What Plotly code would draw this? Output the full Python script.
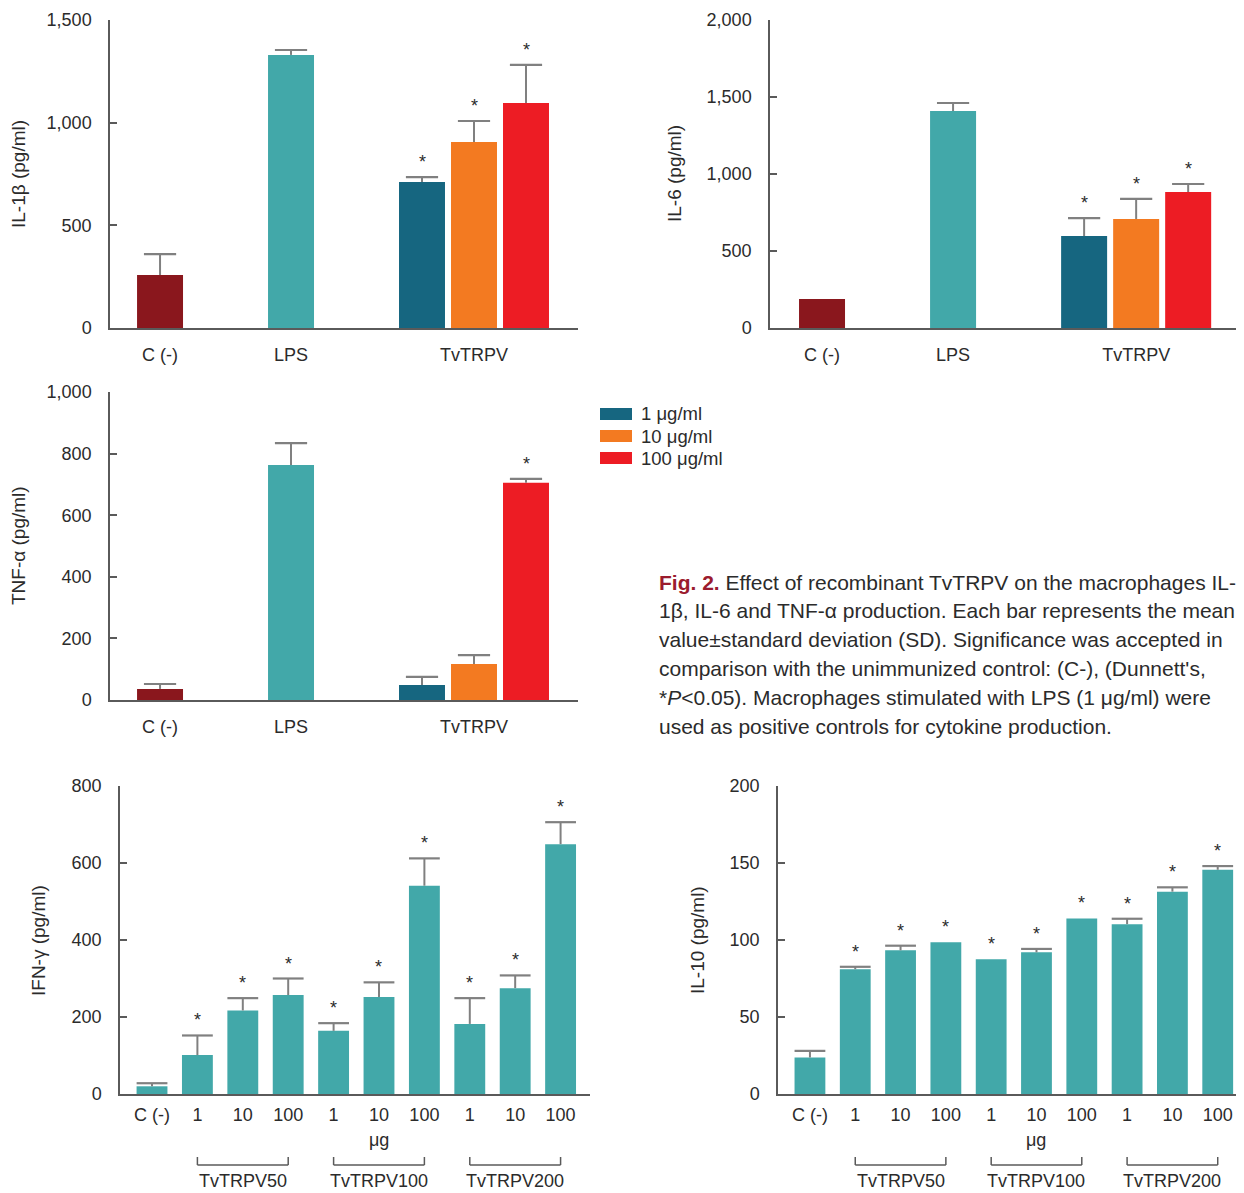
import plotly.graph_objects as go

W, H = 1244, 1193
# the page body adds an 8px margin around the figure; positions below are page pixels
OFF = 8

# ---------------- data ----------------
top_categories = ["C (-)", "LPS", "TvTRPV"]
dose_labels = ["1 μg/ml", "10 μg/ml", "100 μg/ml"]

il1b_controls = [258, 1330]
il1b_controls_sd = [102, 24]
il1b_dose = [711, 906, 1096]
il1b_dose_sd = [24, 102, 185]
il1b_sig = [True, True, True]

il6_controls = [188, 1409]
il6_controls_sd = [None, 52]
il6_dose = [597, 708, 883]
il6_dose_sd = [117, 130, 52]
il6_sig = [True, True, True]

tnf_controls = [36, 763]
tnf_controls_sd = [16, 71]
tnf_dose = [49, 117, 705]
tnf_dose_sd = [26, 29, 13]
tnf_sig = [False, False, True]

groups = ["TvTRPV50", "TvTRPV100", "TvTRPV200"]
doses = ["1", "10", "100"]
bottom_labels = ["C (-)", "1", "10", "100", "1", "10", "100", "1", "10", "100"]

ifn = [20, 101, 217, 257, 164, 252, 541, 182, 275, 649]
ifn_sd = [8, 51, 32, 43, 20, 38, 71, 67, 33, 57]
ifn_sig = [False, True, True, True, True, True, True, True, True, True]

il10 = [23.7, 81, 93.3, 98.5, 87.5, 92, 114, 110.3, 131.4, 145.6]
il10_sd = [4.3, 1.6, 3.0, None, None, 2.2, None, 3.5, 2.8, 2.4]
il10_sig = [False, True, True, True, True, True, True, True, True, True]

caption_lines = [
    "<b><span style='color:#9B1B2E'>Fig. 2.</span></b> Effect of recombinant TvTRPV on the macrophages IL-",
    "1β, IL-6 and TNF-α production. Each bar represents the mean",
    "value±standard deviation (SD). Significance was accepted in",
    "comparison with the unimmunized control: (C-), (Dunnett's,",
    "*<i>P</i>&lt;0.05). Macrophages stimulated with LPS (1 μg/ml) were",
    "used as positive controls for cytokine production.",
]

# ---------------- style ----------------
FONT = "Liberation Sans Narrow, Arial Narrow, Liberation Sans, Arial, sans-serif"
TXT = "#2b2b2b"
AXIS = "#5a5a5a"
ERR = "#808080"
CTRL_COLORS = ["#8A171D", "#42A8A9"]
DOSE_COLORS = ["#166680", "#F37A21", "#ED1C24"]
TEAL = "#42A8A9"
TICK_SIZE = 18

# layout positions
GROUP_POS = 2.397
DOSE_OFF = [-0.397, 0.0, 0.397]
TOP_BARW = 0.351
BOT_BARW = 0.68


def fx(p):
    return (p - OFF) / W


def fy(p):
    return 1 - (p - OFF) / H


fig = go.Figure()
annotations = []
shapes = []


def axis_pair(i, xbox, ybox, xrange_, ymax, dtick, tickvals, ticktext, x_standoff):
    sfx = "" if i == 1 else str(i)
    fig.layout["xaxis" + sfx] = dict(
        domain=[fx(xbox[0]), min(1, fx(xbox[1]))], range=list(xrange_), anchor="y" + sfx,
        tickmode="array", tickvals=tickvals, ticktext=ticktext,
        showline=True, linecolor=AXIS, linewidth=2, ticks="", showgrid=False,
        zeroline=False, tickfont=dict(family=FONT, size=TICK_SIZE, color=TXT),
        ticklabelstandoff=x_standoff, fixedrange=True, automargin=False,
    )
    fig.layout["yaxis" + sfx] = dict(
        domain=[fy(ybox[1]), fy(ybox[0])], range=[0, ymax], anchor="x" + sfx,
        tick0=0, dtick=dtick, tickformat=",", ticks="inside", ticklen=7,
        tickcolor=AXIS, tickwidth=1.5, showline=True, linecolor=AXIS, linewidth=1.5,
        showgrid=False, zeroline=False,
        tickfont=dict(family=FONT, size=TICK_SIZE, color=TXT), ticklabelstandoff=13,
        fixedrange=True, automargin=False,
    )
    return "x" + sfx, "y" + sfx


def add_errors_and_stars(xa, ya, xs, ys, sds, sig, capsize):
    keep = [k for k, s in enumerate(sds) if s is not None]
    # point at mean+SD: a horizontal-line marker is the cap, the error bar runs down to the bar
    fig.add_trace(go.Scatter(
        x=[xs[k] for k in keep], y=[ys[k] + sds[k] for k in keep], mode="markers",
        marker=dict(symbol="line-ew", size=capsize, line=dict(color=ERR, width=2.2)),
        xaxis=xa, yaxis=ya, showlegend=False, hoverinfo="skip",
        error_y=dict(type="data", symmetric=False, array=[0 for _ in keep],
                     arrayminus=[sds[k] for k in keep], color=ERR, thickness=2, width=0),
    ))
    for k, s in enumerate(sig):
        if s:
            top = ys[k] + (sds[k] or 0)
            annotations.append(dict(
                x=xs[k], y=top, xref=xa, yref=ya, text="*", showarrow=False,
                yanchor="bottom", yshift=3,
                font=dict(family=FONT, size=18, color=TXT),
            ))


def add_title(text, tx, ybox):
    annotations.append(dict(
        x=fx(tx), y=fy((ybox[0] + ybox[1]) / 2), xref="paper", yref="paper",
        text=text, textangle=-90, showarrow=False, xanchor="center", yanchor="middle",
        font=dict(family=FONT, size=19, color=TXT),
    ))


def add_top_panel(i, xbox, ybox, xrange_, ymax, dtick, controls, controls_sd, dose, dose_sd, sig, title, tx):
    xa, ya = axis_pair(i, xbox, ybox, xrange_, ymax, dtick,
                       [0, 1, GROUP_POS], top_categories, 9)
    fig.add_trace(go.Bar(x=[0, 1], y=controls, width=TOP_BARW, marker_color=CTRL_COLORS,
                         marker_line_width=0, xaxis=xa, yaxis=ya, showlegend=False,
                         hoverinfo="skip"))
    dx = [GROUP_POS + o for o in DOSE_OFF]
    for k in range(len(dose)):
        fig.add_trace(go.Bar(x=[dx[k]], y=[dose[k]], width=TOP_BARW,
                             marker_color=DOSE_COLORS[k], marker_line_width=0,
                             name=dose_labels[k], xaxis=xa, yaxis=ya,
                             showlegend=False, hoverinfo="skip"))
    add_errors_and_stars(xa, ya, [0, 1] + dx, controls + dose, controls_sd + dose_sd,
                         [False, False] + sig, 23)
    add_title(title, tx, ybox)


def add_bottom_panel(i, xbox, ybox, xrange_, ymax, dtick, vals, sds, sig, title, tx):
    xs = list(range(len(bottom_labels)))
    xa, ya = axis_pair(i, xbox, ybox, xrange_, ymax, dtick, xs, bottom_labels, 3)
    fig.add_trace(go.Bar(x=xs, y=vals, width=BOT_BARW, marker_color=TEAL,
                         marker_line_width=0, xaxis=xa, yaxis=ya, showlegend=False,
                         hoverinfo="skip"))
    add_errors_and_stars(xa, ya, xs, vals, sds, sig, 22)
    add_title(title, tx, ybox)
    # "μg" unit label under middle group
    annotations.append(dict(
        x=5, y=fy(1140), xref=xa, yref="paper", text="μg", showarrow=False,
        xanchor="center", yanchor="middle",
        font=dict(family=FONT, size=TICK_SIZE, color=TXT),
    ))
    # group brackets
    for g, name in enumerate(groups):
        a = 1 + g * len(doses)
        b = a + len(doses) - 1
        for (x0, y0, x1, y1) in [(a, 1165, b, 1165), (a, 1165, a, 1157), (b, 1165, b, 1157)]:
            shapes.append(dict(type="line", xref=xa, yref="paper", x0=x0, x1=x1,
                               y0=fy(y0), y1=fy(y1), line=dict(color=AXIS, width=1.5)))
        annotations.append(dict(
            x=(a + b) / 2, y=fy(1181), xref=xa, yref="paper", text=name,
            showarrow=False, xanchor="center", yanchor="middle",
            font=dict(family=FONT, size=TICK_SIZE, color=TXT),
        ))


add_top_panel(1, (110, 578), (20, 328), (-0.382, 3.191), 1500, 500,
              il1b_controls, il1b_controls_sd, il1b_dose, il1b_dose_sd, il1b_sig,
              "IL-1β (pg/ml)", 18)
add_top_panel(2, (770, 1244), (20, 328), (-0.397, 3.22), 2000, 500,
              il6_controls, il6_controls_sd, il6_dose, il6_dose_sd, il6_sig,
              "IL-6 (pg/ml)", 674)
add_top_panel(3, (110, 578), (392, 700), (-0.382, 3.191), 1000, 200,
              tnf_controls, tnf_controls_sd, tnf_dose, tnf_dose_sd, tnf_sig,
              "TNF-α (pg/ml)", 18)
add_bottom_panel(4, (120, 590), (786, 1094), (-0.705, 9.648), 800, 200,
                 ifn, ifn_sd, ifn_sig, "IFN-γ (pg/ml)", 38)
add_bottom_panel(5, (778, 1244), (786, 1094), (-0.705, 9.58), 200, 50,
                 il10, il10_sd, il10_sig, "IL-10 (pg/ml)", 697)

# legend (swatches + labels)
for k, lab in enumerate(dose_labels):
    yc = 414 + 22 * k
    shapes.append(dict(type="rect", xref="paper", yref="paper",
                       x0=fx(600), x1=fx(632), y0=fy(yc + 6), y1=fy(yc - 6),
                       fillcolor=DOSE_COLORS[k], line=dict(width=0)))
    annotations.append(dict(x=fx(639), y=fy(yc), xref="paper", yref="paper", text=lab,
                            showarrow=False, xanchor="left", yanchor="middle",
                            font=dict(family=FONT, size=18.5, color=TXT)))

# caption
for k, line in enumerate(caption_lines):
    annotations.append(dict(x=fx(657), y=fy(582 + 28.8 * k), xref="paper", yref="paper",
                            text=line, showarrow=False, xanchor="left", yanchor="middle",
                            font=dict(family=FONT, size=21, color=TXT)))

fig.update_layout(
    width=W, height=H, margin=dict(l=0, r=0, t=0, b=0, pad=0, autoexpand=False),
    paper_bgcolor="white", plot_bgcolor="white", barmode="overlay",
    showlegend=False, annotations=annotations, shapes=shapes,
    font=dict(family=FONT, color=TXT),
)

fig.write_html("out.html")
